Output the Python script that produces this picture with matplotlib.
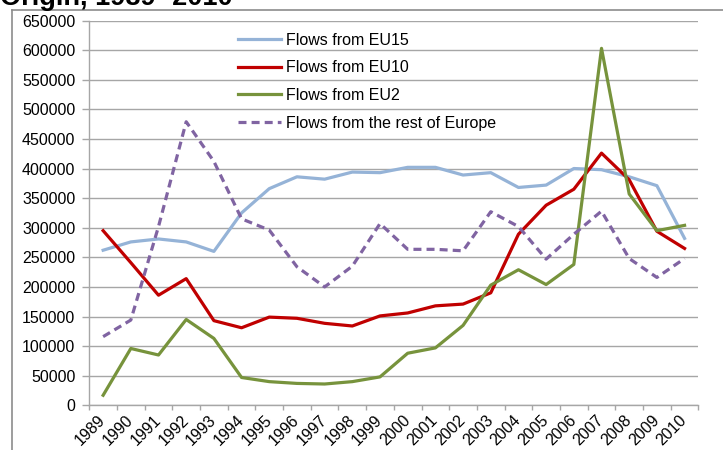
import numpy as np
import matplotlib
matplotlib.use("Agg")
import matplotlib.pyplot as plt
from matplotlib.lines import Line2D

plt.rcParams['font.family'] = ['Liberation Sans', 'DejaVu Sans']

# data
years = [str(y) for y in range(1989, 2011)]
eu15 = [262000, 276000, 281000, 276000, 260000, 325000, 366000, 386000, 382000, 394000, 393000,
        402000, 402000, 389000, 393000, 368000, 372000, 400000, 398000, 386000, 371000, 282000]
eu10 = [295000, 241000, 186000, 214000, 143000, 131000, 149000, 147000, 138500, 134000, 151000,
        156000, 168000, 171000, 190000, 289000, 338000, 365000, 426000, 381000, 294000, 265000]
eu2 = [17000, 96000, 85000, 145000, 113000, 47000, 40000, 37000, 36000, 40000, 48000,
       88000, 97000, 135000, 203000, 229000, 204000, 238000, 603000, 357000, 295000, 304000]
rest = [116000, 144000, 302000, 479000, 412000, 315000, 296000, 234000, 200000, 235000, 307000,
        263500, 263500, 261000, 327000, 302000, 247000, 289000, 328000, 248000, 216000, 248000]

series = [
    ("Flows from EU15", eu15, "#95B3D7", "-"),
    ("Flows from EU10", eu10, "#C00000", "-"),
    ("Flows from EU2", eu2, "#77933C", "-"),
    ("Flows from the rest of Europe", rest, "#8064A2", (0, (2.5, 1.6))),
]

fig = plt.figure(figsize=(7.23, 4.5), dpi=100)
ax = fig.add_axes([0.1235, 0.0993, 0.8425, 0.8551])

x = np.arange(len(years))
for label, vals, col, ls in series:
    ax.plot(x, vals, color=col, linestyle=ls, linewidth=2.3, label=label)

ax.set_xlim(-0.5, len(years) - 0.5)
ax.set_ylim(0, 650000)
ax.set_yticks(np.arange(0, 650001, 50000))
ax.set_yticklabels([str(v) for v in range(0, 650001, 50000)])
ax.yaxis.grid(True, color="#A6A6A6", linewidth=1)
ax.set_axisbelow(True)

ax.set_xticks(x)
ax.set_xticklabels(years, rotation=45, ha="right", va="center", rotation_mode="anchor")
ax.set_xticks(np.arange(-0.5, len(years)), minor=True)
ax.tick_params(axis="x", which="major", length=0, pad=9, labelsize=11.5)
ax.tick_params(axis="x", which="minor", length=3.5, color="#A6A6A6", width=1)
ax.tick_params(axis="y", length=5, color="#A6A6A6", width=1, labelsize=11.5, pad=5)

for s in ["top", "right"]:
    ax.spines[s].set_visible(False)
for s in ["left", "bottom"]:
    ax.spines[s].set_color("#A6A6A6")
    ax.spines[s].set_linewidth(1)

ax.legend(loc="upper left", bbox_to_anchor=(0.329, 0.927), bbox_transform=fig.transFigure,
          frameon=False, fontsize=11.5, handlelength=2.7, handletextpad=0.3,
          labelspacing=0.79, borderpad=0, borderaxespad=0)

# outer chart border (cut off by the crop)
fig.add_artist(Line2D([12 / 723, 1.0], [1 - 10 / 450, 1 - 10 / 450], color="#8C8C8C", linewidth=1.2,
                      transform=fig.transFigure))
fig.add_artist(Line2D([12 / 723, 12 / 723], [0, 1 - 10 / 450], color="#8C8C8C", linewidth=1.2,
                      transform=fig.transFigure))

fig.text(0.0, 1 - 5 / 450, "Origin, 1989 -2010", fontsize=19.5, fontweight="bold",
         ha="left", va="baseline")

fig.savefig("out.png", dpi=100)
